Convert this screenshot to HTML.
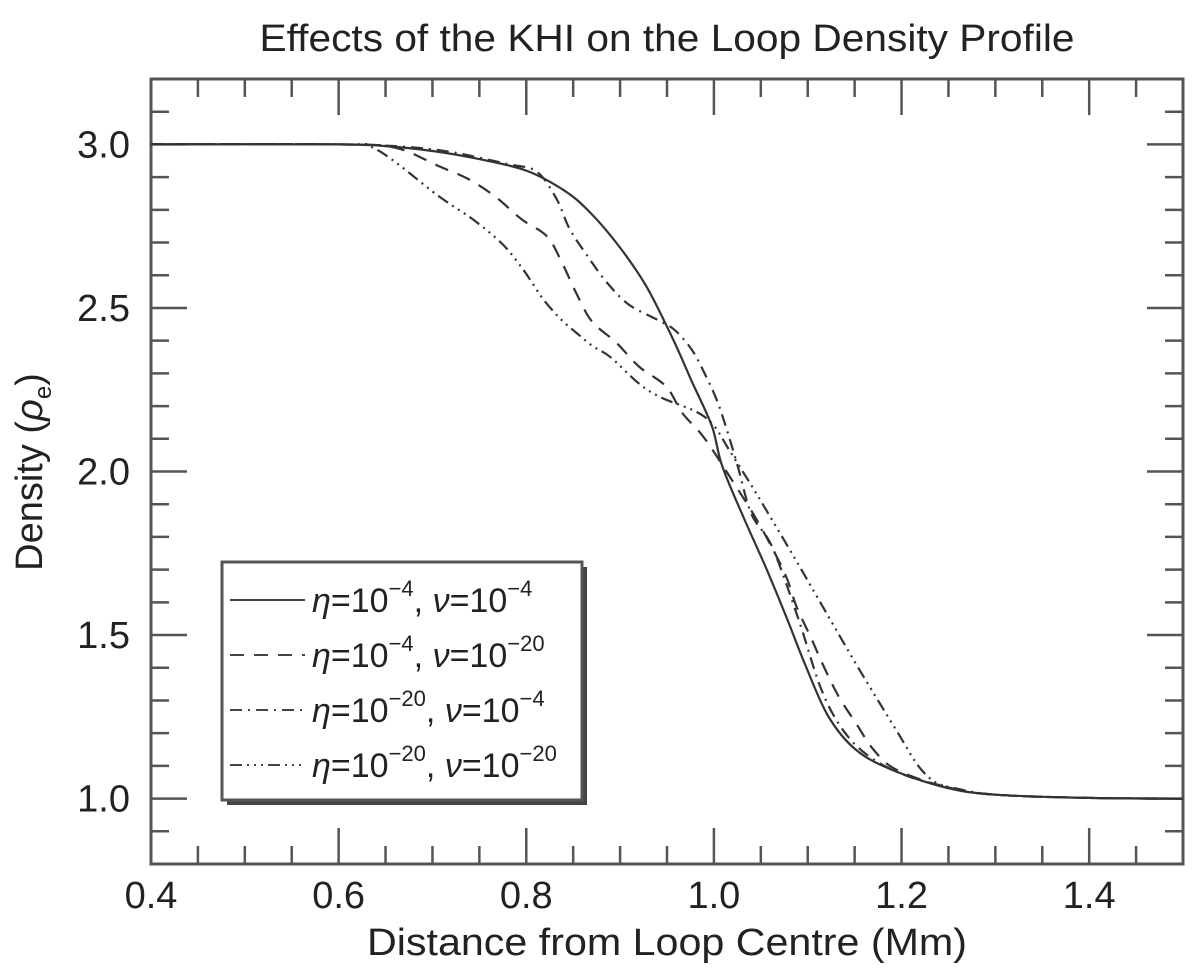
<!DOCTYPE html>
<html><head><meta charset="utf-8"><style>
html,body{margin:0;padding:0;background:#fff;}
svg{display:block;font-family:"Liberation Sans","DejaVu Sans",sans-serif;}
</style></head><body>
<svg id="chart" width="1200" height="972" viewBox="0 0 1200 972">
<text x="667" y="51" font-size="38" text-anchor="middle" fill="#222" textLength="815" lengthAdjust="spacingAndGlyphs">Effects of the KHI on the Loop Density Profile</text>
<text x="667" y="955" font-size="38" text-anchor="middle" fill="#222" textLength="600" lengthAdjust="spacingAndGlyphs">Distance from Loop Centre (Mm)</text>
<text transform="translate(42,472) rotate(-90)" font-size="38" text-anchor="middle" fill="#222">Density (<tspan font-style="italic">ρ</tspan><tspan font-size="24" dy="9">e</tspan><tspan dy="-9">)</tspan></text>
<g id="axes"></g>
<g id="series"></g>
<g id="legend">
  <rect x="227" y="567" width="360" height="238" fill="#444"/>
  <rect x="222" y="562" width="360" height="238" fill="#fff" stroke="#555" stroke-width="3"/>
</g>
</svg>
<script>
const xTicks = [0.4, 0.6, 0.8, 1.0, 1.2, 1.4];
const yTicks = [1.0, 1.5, 2.0, 2.5, 3.0];
const xLabels = ["0.4", "0.6", "0.8", "1.0", "1.2", "1.4"];
const yLabels = ["1.0", "1.5", "2.0", "2.5", "3.0"];
const seriesNames = ["eta4-nu4", "eta4-nu20", "eta20-nu4", "eta20-nu20"];
const solidX = [0.4,0.6,0.65,0.7,0.75,0.8,0.84,0.867,0.899,0.928,0.955,0.977,0.998,1.009,1.034,1.055,1.077,1.098,1.122,1.151,1.189,1.247,1.3,1.4,1.5];
const solidY = [3.0,3.0,2.995,2.98,2.955,2.92,2.86,2.795,2.688,2.566,2.413,2.272,2.138,2.015,1.844,1.709,1.557,1.404,1.251,1.15,1.089,1.034,1.012,1.002,1.0];
const dashX = [0.4,0.6,0.66,0.707,0.739,0.768,0.795,0.822,0.838,0.853,0.87,0.896,0.92,0.949,0.966,0.985,1.0,1.02,1.04,1.059,1.077,1.088,1.103,1.117,1.133,1.151,1.17,1.194,1.247,1.3,1.4,1.5];
const dashY = [3.0,3.0,2.99,2.933,2.893,2.838,2.771,2.719,2.639,2.547,2.459,2.394,2.321,2.26,2.18,2.12,2.06,1.97,1.88,1.783,1.679,1.587,1.495,1.404,1.312,1.232,1.15,1.089,1.035,1.012,1.002,1.0];
const ddotX = [0.4,0.6,0.7,0.78,0.811,0.832,0.846,0.864,0.885,0.909,0.939,0.955,0.966,0.977,0.987,1.002,1.013,1.025,1.04,1.062,1.09,1.115,1.14,1.17,1.21,1.26,1.3,1.4,1.5];
const ddotY = [3.0,3.0,2.985,2.94,2.917,2.835,2.743,2.664,2.581,2.511,2.465,2.44,2.41,2.37,2.318,2.226,2.135,2.02,1.87,1.77,1.55,1.33,1.2,1.12,1.065,1.03,1.012,1.002,1.0];
const tdotX = [0.4,0.6,0.64,0.707,0.743,0.774,0.795,0.806,0.819,0.837,0.853,0.87,0.89,0.92,0.944,0.981,1.0,1.016,1.034,1.051,1.087,1.122,1.157,1.194,1.221,1.247,1.3,1.4,1.5];
const tdotY = [3.0,3.0,2.985,2.841,2.771,2.697,2.624,2.578,2.523,2.465,2.425,2.385,2.349,2.269,2.226,2.183,2.14,2.067,1.985,1.905,1.731,1.557,1.385,1.211,1.089,1.037,1.012,1.002,1.0];

const X0=151, X1=1183, Y0=79, Y1=864;
const xMin=0.4, xMax=1.5, yMin=0.8, yMax=3.2;
function sx(v){return X0+(v-xMin)/(xMax-xMin)*(X1-X0);}
function sy(v){return Y1-(v-yMin)/(yMax-yMin)*(Y1-Y0);}
const NS="http://www.w3.org/2000/svg";
function mk(tag,attrs,parent){const e=document.createElementNS(NS,tag);for(const k in attrs)e.setAttribute(k,attrs[k]);parent.appendChild(e);return e;}
const axes=document.getElementById('axes');
const frame=mk('rect',{x:X0,y:Y0,width:X1-X0,height:Y1-Y0,fill:'none',stroke:'#555','stroke-width':3},axes);


for(let i=0;i<=22;i++){
  const v=xMin+i*0.05, px=sx(v), major=(i%4===0);
  const L=major?36:18;
  for(const [ya,yb] of [[Y1,Y1-L],[Y0,Y0+L]]){
    const t=mk('line',{x1:px,x2:px,y1:ya,y2:yb,stroke:'#555','stroke-width':2.5},axes);
    
    
  }
}
for(let i=0;i<=24;i++){
  const v=yMin+i*0.1, py=sy(v), r=Math.round(v*10)%5, major=(r===0);
  const L=major?36:18;
  for(const [xa,xb] of [[X0,X0+L],[X1,X1-L]]){
    const t=mk('line',{x1:xa,x2:xb,y1:py,y2:py,stroke:'#555','stroke-width':2.5},axes);
    
    
  }
}
xTicks.forEach((v,i)=>{
  const t=mk('text',{x:sx(v),y:908,'font-size':38,'text-anchor':'middle',fill:'#222'},axes);
  t.textContent=xLabels[i];
  
  
});
yTicks.forEach((v,i)=>{
  const t=mk('text',{x:130,y:sy(v)+13,'font-size':38,'text-anchor':'end',fill:'#222'},axes);
  t.textContent=yLabels[i];
  
  
});
function smoothPath(xs,ys){
  const P=xs.map((x,i)=>[sx(x),sy(ys[i])]);
  let d='M'+P[0][0].toFixed(1)+','+P[0][1].toFixed(1);
  for(let i=0;i<P.length-1;i++){
    const p0=P[Math.max(0,i-1)],p1=P[i],p2=P[i+1],p3=P[Math.min(P.length-1,i+2)];
    const c1=[p1[0]+(p2[0]-p0[0])/6,p1[1]+(p2[1]-p0[1])/6];
    const c2=[p2[0]-(p3[0]-p1[0])/6,p2[1]-(p3[1]-p1[1])/6];
    d+=' C'+c1.map(v=>v.toFixed(1)).join(',')+' '+c2.map(v=>v.toFixed(1)).join(',')+' '+p2.map(v=>v.toFixed(1)).join(',');
  }
  return d;
}
const dashes=["", "14 10", "12 6 2 6", "12 5 2 5 2 5 2 5"];
const series=[[solidX,solidY],[dashX,dashY],[ddotX,ddotY],[tdotX,tdotY]];
const sg=document.getElementById('series');
series.forEach((s,k)=>{
  const p=mk('path',{d:smoothPath(s[0],s[1]),fill:'none',stroke:'#333','stroke-width':2.2,'stroke-dasharray':dashes[k]||'none'},sg);
  
  
});
const lg=document.getElementById('legend');
const labels=[["4","4"],["4","20"],["20","4"],["20","20"]];
const ly=[612,667,722,777];
labels.forEach((l,k)=>{
  const ln=mk('line',{x1:230,x2:305,y1:ly[k]-12,y2:ly[k]-12,stroke:'#444','stroke-width':2,'stroke-dasharray':dashes[k]||'none'},lg);
  
  
  const t=mk('text',{x:312,y:ly[k],'font-size':34,fill:'#222'},lg);
  t.innerHTML='<tspan font-style="italic">η</tspan>=10<tspan font-size="22" dy="-16">−'+l[0]+'</tspan><tspan dy="16">, </tspan><tspan font-style="italic">ν</tspan>=10<tspan font-size="22" dy="-16">−'+l[1]+'</tspan>';
  
  
});
</script>
</body></html>
